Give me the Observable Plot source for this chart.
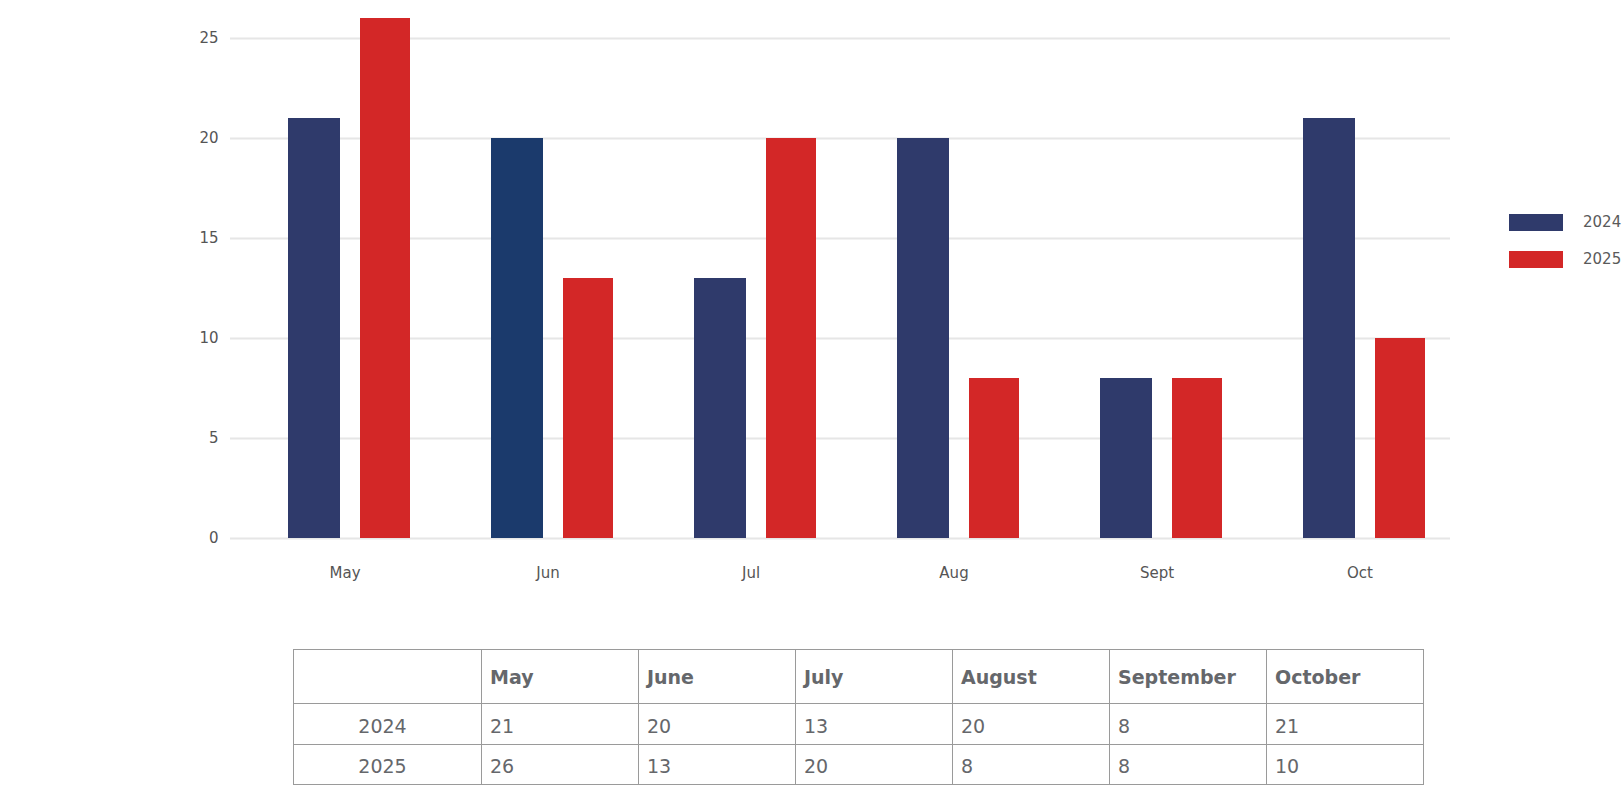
<!DOCTYPE html>
<html><head><meta charset="utf-8">
<script src="https://cdn.jsdelivr.net/npm/d3@7"></script>
<script src="https://cdn.jsdelivr.net/npm/@observablehq/plot@0.6"></script>
<style>
body{margin:0;background:#fff;font-family:"DejaVu Sans",sans-serif;width:1624px;height:785px;overflow:hidden;position:relative}
#chart svg{display:block}
#legend{position:absolute;left:1509px;top:214px;font-size:15px;color:#5a5a5a}
#legend .item{position:relative;height:37px}
#legend .sw{position:absolute;left:0;top:0;width:54px;height:17px}
#legend .lab{position:absolute;left:74px;top:-2px;line-height:20px}
#tbl{position:absolute;left:293px;top:649px;border-collapse:collapse;color:#65676b;font-size:19px}
#tbl td{border:1px solid #9a9a9a;padding:0 0 0 8px;text-align:left;box-sizing:border-box}
#tbl tr.h td{height:54px;font-weight:700;font-size:19px}
#tbl tr.r td{height:40.5px;padding-top:4px}
#tbl td.first{width:188px;text-align:center;padding-left:0;padding-right:10px}
#tbl td.c{width:157px}
</style></head><body>
<div id="chart"></div>
<div id="legend"></div>
<table id="tbl"></table>
<script>
const months = ["May","Jun","Jul","Aug","Sept","Oct"];
const monthNames = ["May","June","July","August","September","October"];
const years = ["2024","2025"];
const values2024 = [21,20,13,20,8,21];
const values2025 = [26,13,20,8,8,10];
const yTicks = [0,5,10,15,20,25];

const blue = "#2f3a6b", blueJun = "#1b3a6c", red = "#d32727";
const data2024 = months.map((m,i)=>({month:m, year:years[0], value:values2024[i]}));
const data2025 = months.map((m,i)=>({month:m, year:years[1], value:values2025[i]}));

const chart = Plot.plot({
  width:1624, height:620,
  marginLeft:230, marginRight:174, marginTop:18, marginBottom:82,
  style:{fontFamily:"'DejaVu Sans', sans-serif", fontSize:"15px", color:"#555", background:"#fff"},
  x:{domain:months, padding:0, label:null},
  y:{domain:[0,26], label:null},
  color:{type:"identity"},
  marks:[
    Plot.ruleY(yTicks,{stroke:"#e6e6e6", strokeWidth:2}),
    Plot.barY(data2024,{x:"month", y:"value", fill:d=>d.month==="Jun"?blueJun:blue, insetLeft:57, insetRight:94}),
    Plot.barY(data2025,{x:"month", y:"value", fill:red, insetLeft:129, insetRight:24}),
    Plot.axisY({ticks:yTicks, tickSize:0, tickPadding:12, label:null, fontSize:15}),
    Plot.axisX({tickSize:0, tickPadding:29, dx:12, label:null, fontSize:15})
  ]
});
document.getElementById("chart").appendChild(chart);

const legend = document.getElementById("legend");
[[years[0],blue],[years[1],red]].forEach(([y,c])=>{
  const it=document.createElement("div");it.className="item";
  it.innerHTML=`<div class="sw" style="background:${c}"></div><div class="lab">${y}</div>`;
  legend.appendChild(it);
});

const tbl=document.getElementById("tbl");
let html=`<tr class="h"><td class="first"></td>${monthNames.map(m=>`<td class="c">${m}</td>`).join("")}</tr>`;
html+=`<tr class="r"><td class="first">${years[0]}</td>${values2024.map(v=>`<td class="c">${v}</td>`).join("")}</tr>`;
html+=`<tr class="r"><td class="first">${years[1]}</td>${values2025.map(v=>`<td class="c">${v}</td>`).join("")}</tr>`;
tbl.innerHTML=html;
</script>
</body></html>
